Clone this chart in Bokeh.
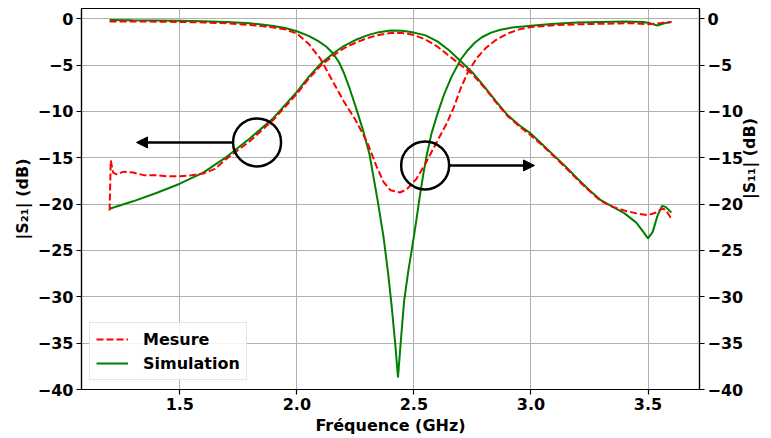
import math
from bokeh.plotting import figure
from bokeh.models import Range1d, LinearAxis, Arrow, NormalHead, Legend, LegendItem, FixedTicker
from bokeh.embed import file_html
from bokeh.resources import INLINE

# ---- data ----
freq_s21_sim = [1.20, 1.30, 1.40, 1.50, 1.60, 1.70, 1.80, 1.90, 2.00, 2.05, 2.10, 2.155, 2.20, 2.25,
                2.30, 2.35, 2.40, 2.45, 2.50, 2.55, 2.60, 2.65, 2.70, 2.75, 2.80, 2.85, 2.90, 2.95,
                3.00, 3.05, 3.10, 3.15, 3.20, 3.25, 3.30, 3.35, 3.40, 3.45, 3.48, 3.50, 3.52, 3.54,
                3.56, 3.575, 3.60]
s21_sim = [-20.5, -19.7, -18.8, -17.8, -16.6, -14.9, -12.9, -10.7, -7.9, -6.3, -4.9, -3.75, -2.95, -2.3,
           -1.8, -1.45, -1.28, -1.3, -1.5, -1.8, -2.45, -3.4, -4.6, -5.8, -7.3, -8.9, -10.4, -11.5,
           -12.4, -13.6, -14.8, -16.0, -17.3, -18.5, -19.6, -20.3, -21.0, -22.0, -23.0, -23.7, -23.0, -21.3,
           -20.2, -20.3, -20.9]

freq_s21_meas = [1.200, 1.205, 1.215, 1.23, 1.26, 1.30, 1.35, 1.40, 1.45, 1.50, 1.55, 1.60, 1.65, 1.70,
                 1.80, 1.90, 2.00, 2.05, 2.10, 2.155, 2.20, 2.25, 2.30, 2.35, 2.40, 2.45, 2.50, 2.55,
                 2.60, 2.65, 2.70, 2.75, 2.80, 2.85, 2.90, 2.95, 3.00, 3.05, 3.10, 3.15, 3.20, 3.25,
                 3.30, 3.35, 3.40, 3.45, 3.50, 3.535, 3.56, 3.575, 3.60]
s21_meas = [-20.7, -15.3, -16.6, -16.8, -16.5, -16.6, -16.9, -16.9, -17.0, -17.0, -16.9, -16.7, -16.2, -15.1,
            -13.2, -10.9, -8.1, -6.5, -5.1, -4.0, -3.2, -2.6, -2.1, -1.75, -1.55, -1.55, -1.75, -2.25,
            -3.0, -4.0, -5.0, -6.0, -7.4, -9.0, -10.5, -11.6, -12.6, -13.7, -14.9, -16.1, -17.4, -18.6,
            -19.7, -20.3, -20.7, -21.0, -21.2, -20.9, -20.5, -20.6, -21.6]

freq_s11_sim = [1.20, 1.30, 1.40, 1.50, 1.60, 1.70, 1.80, 1.85, 1.90, 1.95, 2.00, 2.05, 2.09, 2.125, 2.155,
                2.18, 2.20, 2.225, 2.25, 2.28, 2.31, 2.345, 2.37, 2.39, 2.405, 2.42, 2.432, 2.445, 2.458,
                2.475, 2.493, 2.51, 2.525, 2.54, 2.555, 2.575, 2.60, 2.63, 2.66, 2.70, 2.73, 2.76, 2.79,
                2.83, 2.87, 2.92, 3.00, 3.10, 3.20, 3.30, 3.40, 3.48, 3.51, 3.54, 3.57, 3.60]
s11_sim = [-0.15, -0.18, -0.2, -0.22, -0.27, -0.35, -0.5, -0.62, -0.78, -1.0, -1.35, -1.85, -2.4, -3.0, -3.75,
           -4.7, -5.8, -7.5, -9.4, -11.8, -14.6, -19.6, -23.5, -27.5, -31.0, -35.0, -38.7, -34.5, -30.5,
           -27.4, -24.6, -21.8, -19.2, -16.8, -14.7, -12.4, -10.3, -8.1, -6.3, -4.4, -3.4, -2.6, -2.0,
           -1.5, -1.2, -0.95, -0.75, -0.55, -0.42, -0.35, -0.3, -0.35, -0.5, -0.73, -0.5, -0.37]

freq_s11_meas = [1.20, 1.30, 1.40, 1.50, 1.60, 1.70, 1.80, 1.85, 1.90, 1.95, 2.00, 2.05, 2.10, 2.15, 2.20,
                 2.25, 2.30, 2.34, 2.37, 2.40, 2.44, 2.47, 2.51, 2.55, 2.60, 2.64, 2.67, 2.70, 2.73,
                 2.77, 2.81, 2.85, 2.90, 2.95, 3.00, 3.10, 3.20, 3.30, 3.40, 3.45, 3.50, 3.53, 3.56, 3.60]
s11_meas = [-0.3, -0.3, -0.32, -0.35, -0.4, -0.5, -0.68, -0.8, -0.95, -1.15, -1.6, -2.7, -4.3, -6.6, -8.9,
            -10.9, -13.3, -15.9, -17.6, -18.5, -18.75, -18.4, -17.3, -15.6, -13.2, -11.3, -9.6, -7.5, -5.8,
            -4.2, -3.1, -2.3, -1.6, -1.15, -0.9, -0.7, -0.6, -0.55, -0.5, -0.5, -0.6, -0.55, -0.45, -0.35]

x_ticks = [1.5, 2.0, 2.5, 3.0, 3.5]
y_ticks = [0, -5, -10, -15, -20, -25, -30, -35, -40]

# annotation circles and arrows (data coordinates)
circle_x = [1.83, 2.548]
circle_y = [-13.35, -15.83]
arrow_x_start = [1.728, 2.650]
arrow_x_end = [1.315, 3.015]
arrow_y = [-13.35, -15.83]

FONT = "DejaVu Sans"
FS = "16px"

p = figure(width=771, height=438, x_range=Range1d(1.08, 3.72), y_range=Range1d(-40, 1.1),
           output_backend="svg", toolbar_location=None,
           min_border_left=81, min_border_right=66, min_border_top=8, min_border_bottom=49)
p.extra_y_ranges = {"s11": Range1d(-40, 1.1)}
p.outline_line_color = "black"
p.outline_line_width = 1.2
p.background_fill_color = "white"
p.border_fill_color = "white"

right_axis = LinearAxis(y_range_name="s11")
p.add_layout(right_axis, "right")

p.xaxis.ticker = FixedTicker(ticks=x_ticks)
p.xaxis.major_label_overrides = {t: f"{t:.1f}" for t in x_ticks}
for ax in p.yaxis:
    ax.ticker = FixedTicker(ticks=y_ticks)
    ax.major_label_overrides = {t: (str(t).replace("-", "\u2212")) for t in y_ticks}

for ax in p.axis:
    ax.major_label_text_font = FONT
    ax.major_label_text_font_style = "bold"
    ax.major_label_text_font_size = FS
    ax.major_label_text_color = "black"
    ax.axis_label_text_font = FONT
    ax.axis_label_text_font_style = "bold"
    ax.axis_label_text_font_size = FS
    ax.axis_label_text_color = "black"
    ax.minor_tick_line_color = None
    ax.major_tick_out = 5
    ax.major_tick_in = 0
    ax.major_tick_line_color = "black"
    ax.major_tick_line_width = 1.2
    ax.axis_line_color = "black"
    ax.axis_line_width = 1.2
    ax.major_label_standoff = 3
    ax.axis_label_standoff = 3

p.xaxis.axis_label = "Fréquence (GHz)"
p.yaxis[0].axis_label = "|S\u2082\u2081| (dB)"
right_axis.axis_label = "|S\u2081\u2081| (dB)"
try:
    right_axis.axis_label_orientation = math.pi / 2
except Exception:
    pass

p.xgrid.ticker = FixedTicker(ticks=x_ticks)
p.ygrid.ticker = FixedTicker(ticks=y_ticks)
p.grid.grid_line_color = "#b0b0b0"
p.grid.grid_line_width = 1

GREEN = "#008000"
RED = "#ff0000"

r_s21_sim = p.line(freq_s21_sim, s21_sim, line_color=GREEN, line_width=2)
r_s11_sim = p.line(freq_s11_sim, s11_sim, line_color=GREEN, line_width=2)
r_s21_meas = p.line(freq_s21_meas, s21_meas, line_color=RED, line_width=2, line_dash="7 3")
r_s11_meas = p.line(freq_s11_meas, s11_meas, line_color=RED, line_width=2, line_dash="7 3")

p.scatter(circle_x, circle_y, marker="circle", size=48, fill_color=None,
          line_color="black", line_width=2.5)

for xs, xe, y in zip(arrow_x_start, arrow_x_end, arrow_y):
    p.add_layout(Arrow(end=NormalHead(size=11, fill_color="black", line_color="black", line_width=1),
                       x_start=xs, y_start=y, x_end=xe, y_end=y,
                       line_color="black", line_width=2.5))

legend = Legend(items=[LegendItem(label="Mesure", renderers=[r_s21_meas]),
                       LegendItem(label="Simulation", renderers=[r_s21_sim])],
                location=(8, 9))
legend.label_text_font = FONT
legend.label_text_font_style = "bold"
legend.label_text_font_size = FS
legend.label_text_color = "black"
legend.glyph_width = 32
legend.glyph_height = 20
legend.label_standoff = 15
legend.spacing = 4
legend.padding = 6
legend.margin = 0
legend.border_line_color = "#cccccc"
legend.border_line_width = 1
legend.background_fill_alpha = 0.85
p.add_layout(legend)

open("out.html", "w").write(file_html(p, INLINE))
